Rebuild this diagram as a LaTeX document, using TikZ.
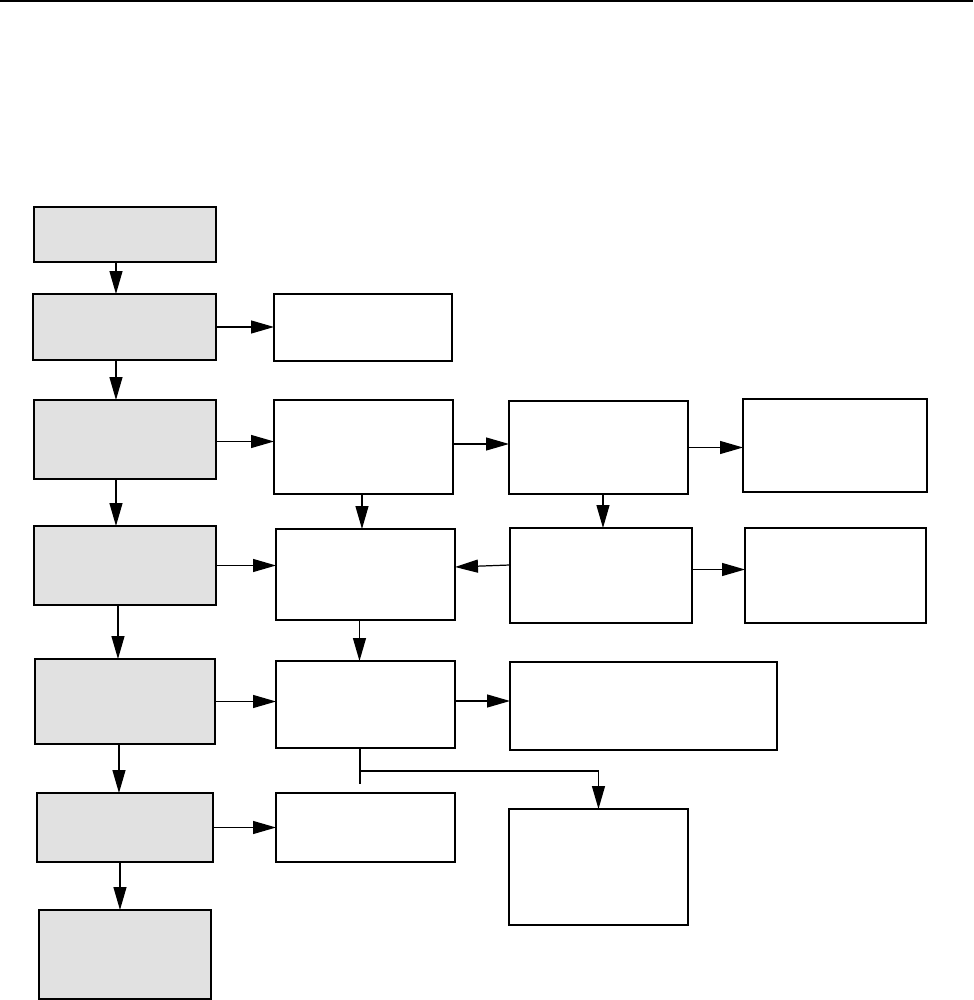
\documentclass[tikz,border=0pt]{standalone}
\usepackage{tikz}
\usetikzlibrary{arrows.meta,positioning}
\definecolor{boxgray}{HTML}{E1E1E1}

\begin{document}
\begin{tikzpicture}[->,>={Triangle[length=4.6mm,width=2.6mm]},x=0.02cm,y=-0.02cm,
		line width=0.7pt]
		\tikzstyle{every node}=[draw=black,anchor=north west,inner sep=0pt,outer sep=0pt]
		\tikzstyle{grey box}=[fill=boxgray]
		\tikzstyle{white box}=[fill=white]
		\useasboundingbox (0,0) rectangle (973,1000);
		\draw[-,line width=1.7pt] (0,1) -- (973,1);
		
		% left column
		\node[grey box,minimum width=3.64cm,minimum height=1.10cm] (l1) at (34,207) {};
		\node[grey box,minimum width=3.66cm,minimum height=1.32cm] (l2) at (33,294) {};
		\node[grey box,minimum width=3.64cm,minimum height=1.58cm] (l3) at (34,400) {};
		\node[grey box,minimum width=3.64cm,minimum height=1.58cm] (l4) at (34,526) {};
		\node[grey box,minimum width=3.60cm,minimum height=1.70cm] (l5) at (35,659) {};
		\node[grey box,minimum width=3.52cm,minimum height=1.38cm] (l6) at (37,793) {};
		\node[grey box,minimum width=3.44cm,minimum height=1.78cm] (l7) at (39,910) {};
		
		% right side
		\node[white box,minimum width=3.56cm,minimum height=1.34cm] (r2) at (274,294) {};
		\node[white box,minimum width=3.58cm,minimum height=1.88cm] (r3a) at (274,400) {};
		\node[white box,minimum width=3.58cm,minimum height=1.86cm] (r3b) at (509,401) {};
		\node[white box,minimum width=3.68cm,minimum height=1.86cm] (r3c) at (743,399) {};
		\node[white box,minimum width=3.58cm,minimum height=1.82cm] (r4a) at (276,529) {};
		\node[white box,minimum width=3.64cm,minimum height=1.90cm] (r4b) at (510,528) {};
		\node[white box,minimum width=3.62cm,minimum height=1.90cm] (r4c) at (745,528) {};
		\node[white box,minimum width=3.58cm,minimum height=1.74cm] (r5a) at (276,661) {};
		\node[white box,minimum width=5.34cm,minimum height=1.76cm] (r5b) at (510,662) {};
		\node[white box,minimum width=3.58cm,minimum height=1.38cm] (r6a) at (276,793) {};
		\node[white box,minimum width=3.58cm,minimum height=2.32cm] (r6b) at (509,809) {};
		
		\path[->]
		([xshift=-0.18cm]l1.south) edge ([xshift=-0.18cm]l1.south |- l2.north)
		([xshift=-0.17cm]l2.south) edge ([xshift=-0.17cm]l2.south |- l3.north)
		([xshift=-0.18cm]l3.south) edge ([xshift=-0.18cm]l3.south |- l4.north)
		([xshift=-0.14cm]l4.south) edge ([xshift=-0.14cm]l4.south |- l5.north)
		([xshift=-0.12cm]l5.south) edge ([xshift=-0.12cm]l5.south |- l6.north)
		([xshift=-0.10cm]l6.south) edge ([xshift=-0.10cm]l6.south |- l7.north);
		
		\path[->]
		(l2.east) edge (l2.east -| r2.west)
		([yshift=-0.04cm]l3.east) edge ([yshift=-0.04cm]l3.east -| r3a.west)
		(l4.east) edge (l4.east -| r4a.west)
		(l5.east) edge (l5.east -| r5a.west)
		(l6.east) edge (l6.east -| r6a.west);
		
		\path[->]
		([yshift=0.06cm]r3a.east) edge ([yshift=0.06cm]r3a.east -| r3b.west)
		([yshift=0.00cm]r3b.east) edge ([yshift=0.00cm]r3b.east -| r3c.west)
		([xshift=-0.03cm]r3a.south) edge ([xshift=-0.03cm]r3a.south |- r4a.north)
		([xshift=0.09cm]r3b.south) edge ([xshift=0.09cm]r3b.south |- r4b.north)
		([yshift=0.21cm]r4b.west) edge ([yshift=0.17cm]r4b.west -| r4a.east)
		([yshift=0.12cm]r4b.east) edge ([yshift=0.12cm]r4b.east -| r4c.west)
		([xshift=-0.12cm]r4a.south) edge ([xshift=-0.12cm]r4a.south |- r5a.north)
		([yshift=0.07cm]r5a.east) edge ([yshift=0.07cm]r5a.east -| r5b.west);
		
		% split line down to the last box
		\coordinate (fork) at (360,771);
		\draw[-] ([xshift=-0.11cm]r5a.south) -- ++(0,36);
		\draw[->] (fork) -| (r6b.north);
\end{tikzpicture}
\end{document}
